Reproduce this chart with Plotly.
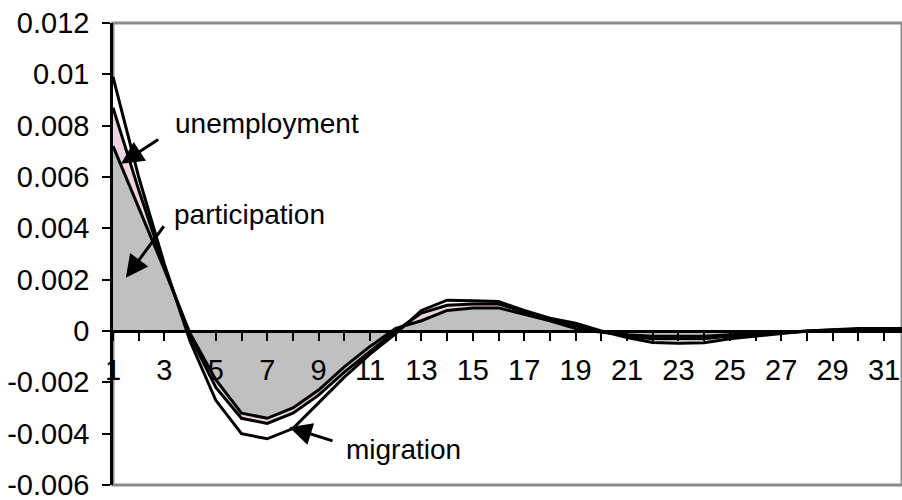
import plotly.graph_objects as go

# periodos (1..32) y respuestas de cada componente (se apilan como en Excel)
periods = list(range(1, 33))
participation = [0.0072, 0.0048, 0.0024, -0.0001, -0.0019, -0.0032, -0.0034, -0.0030,
                 -0.0023, -0.0014, -0.0006, 0.0001, 0.0004, 0.0008, 0.0009, 0.0009,
                 0.00066, 0.0004, 0.0001, -0.00005, -0.00015, -0.0002, -0.0002, -0.0002,
                 -0.00015, -0.0001, -0.00005, 0.0, 0.00003, 0.00005, 0.00005, 0.00005]
unemployment = [0.0015, 0.0007, 0.0001, -0.0001, -0.0003, -0.0002, -0.0002, -0.0002,
                -0.0002, -0.0002, -0.0002, -0.0001, 0.0003, 0.0002, 0.00015, 0.00015,
                0.00009, 0.00005, 0.0001, 0.00003, -0.00005, -0.0001, -0.0001, -0.0001,
                -0.00005, -0.00005, -0.00002, 0.0, 0.00001, 0.00003, 0.00005, 0.00005]
migration = [0.0012, 0.0005, 0.0001, -0.0002, -0.0005, -0.0006, -0.0006, -0.0006,
             -0.0003, -0.0002, -0.0001, -0.0001, 0.0001, 0.0002, 0.00013, 0.0001,
             0.00005, 0.00005, 0.0001, 0.00002, -0.00005, -0.00015, -0.00018, -0.00016,
             -0.0001, -0.00005, -0.00003, 0.0, 0.00001, 0.00002, 0.0, 0.0]

y_ticks = [0.012, 0.01, 0.008, 0.006, 0.004, 0.002, 0, -0.002, -0.004, -0.006]
x_ticks = list(range(1, 32, 2))

FONT = "Liberation Sans, Arial, sans-serif"
FS = 29

fig = go.Figure()
for name, vals, col in [("participation", participation, "#C0C0C0"),
                        ("unemployment", unemployment, "#EBD3DF"),
                        ("migration", migration, "#FFFFFF")]:
    fig.add_trace(go.Scatter(
        x=periods, y=vals, name=name, mode="lines", stackgroup="one",
        fillcolor=col, line=dict(color="black", width=3),
        hoverinfo="skip"
    ))

# etiquetas y flechas
textos = [("unemployment", 3.33, 0.00809), ("participation", 3.29, 0.00455),
          ("migration", 9.99, -0.00461)]
for t, x, y in textos:
    fig.add_annotation(x=x, y=y, text=t, showarrow=False, xanchor="left",
                       yanchor="middle", font=dict(size=28, color="black", family=FONT))

flechas = [(1.31, 0.00652, 2.82, 0.0075), (1.5, 0.00207, 3.02, 0.00414),
           (7.86, -0.00375, 9.6, -0.0043)]
for hx, hy, tx, ty in flechas:
    fig.add_annotation(x=hx, y=hy, ax=tx, ay=ty, axref="x", ayref="y", text="",
                       showarrow=True, arrowhead=2, arrowsize=1.5, arrowwidth=3,
                       arrowcolor="black", standoff=0)

# borde del área de trazado (gris)
fig.add_shape(type="rect", xref="paper", yref="paper", x0=0, x1=1, y0=0, y1=1,
              line=dict(color="#8C8C8C", width=3), layer="below")

fig.update_layout(
    width=902, height=500,
    margin=dict(l=113, r=0, t=23, b=15),
    plot_bgcolor="white", paper_bgcolor="white",
    showlegend=False,
    font=dict(family=FONT, size=FS, color="black"),
    xaxis=dict(range=[1, 31.7], tickvals=x_ticks, ticktext=[str(v) for v in x_ticks],
               ticks="outside", ticklen=8, tickwidth=2, tickcolor="black",
               minor=dict(dtick=1, tick0=1, ticks="outside", ticklen=8, tickwidth=2,
                          tickcolor="black"),
               showline=True, linecolor="black", linewidth=2.5, showgrid=False,
               zeroline=False, anchor="free", position=1 / 3,
               ticklabelstandoff=4, automargin=False, ticklabeloverflow="allow"),
    yaxis=dict(range=[-0.006, 0.012], tickvals=y_ticks,
               ticktext=["0.012", "0.01", "0.008", "0.006", "0.004", "0.002", "0",
                         "-0.002", "-0.004", "-0.006"],
               ticks="outside", ticklen=8, tickwidth=2, tickcolor="black",
               showline=True, linecolor="black", linewidth=2.5, showgrid=False,
               zeroline=False, ticklabelstandoff=7, automargin=False,
               ticklabeloverflow="allow"),
)

# quitar el margen por defecto de la página y la barra de herramientas
fig.write_html("out.html", config={"displayModeBar": False},
               post_script="document.body.style.margin='0';"
                           "document.body.style.overflow='hidden';")
